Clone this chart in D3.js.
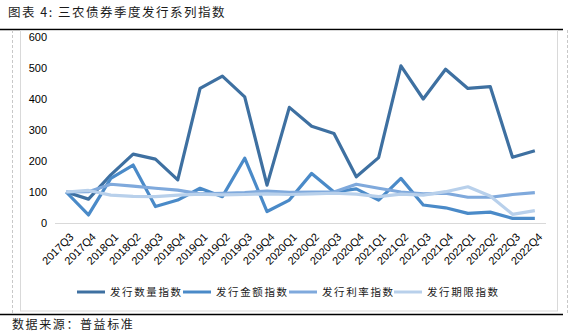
<!DOCTYPE html>
<html>
<head>
<meta charset="utf-8">
<script src="https://cdn.jsdelivr.net/npm/d3@7/dist/d3.min.js"></script>
<style>
  html, body { margin: 0; padding: 0; background: #fff; }
  svg { display: block; }
</style>
</head>
<body>
<svg id="chart" width="577" height="333"></svg>
<script>
// Quarterly issuance indices for agricultural ("三农") bonds, 2017Q3 = 100
const quarters = ["2017Q3","2017Q4","2018Q1","2018Q2","2018Q3","2018Q4","2019Q1","2019Q2","2019Q3","2019Q4","2020Q1","2020Q2","2020Q3","2020Q4","2021Q1","2021Q2","2021Q3","2021Q4","2022Q1","2022Q2","2022Q3","2022Q4"];
const countIndex  = [100, 77, 155, 222, 206, 139, 434, 474, 407, 122, 373, 312, 289, 149, 211, 507, 400, 496, 434, 440, 212, 233];
const amountIndex = [100, 26, 144, 187, 53, 74, 112, 85, 209, 37, 74, 160, 100, 110, 74, 144, 58, 49, 31, 35, 15, 15];
const rateIndex   = [100, 101, 125, 119, 112, 106, 94, 96, 98, 103, 99, 100, 100, 125, 112, 100, 94, 96, 83, 83, 92, 98];
const termIndex   = [100, 105, 90, 86, 85, 90, 93, 91, 92, 94, 92, 94, 96, 93, 85, 93, 90, 101, 117, 87, 28, 40];
const seriesNames = ["发行数量指数", "发行金额指数", "发行利率指数", "发行期限指数"];
const yTicks = [0, 100, 200, 300, 400, 500, 600];

const seriesValues = [countIndex, amountIndex, rateIndex, termIndex];
const colors = ["#3E70A1", "#4A8AC8", "#7FA9DC", "#B8D0EB"];

const svg = d3.select("#chart");
const cjk = "'Noto Sans CJK SC', 'Noto Sans', sans-serif";
const num = "'Liberation Sans', Arial, sans-serif";

// title and rules
svg.append("text").attr("x", 8).attr("y", 17)
  .attr("font-family", cjk).attr("font-size", 12.5).attr("letter-spacing", 1.5)
  .attr("fill", "#1a1a1a").text("图表 4: 三农债券季度发行系列指数");
svg.append("line").attr("x1", 0).attr("x2", 563).attr("y1", 29.5).attr("y2", 29.5)
  .attr("stroke", "#000").attr("stroke-width", 1.5);
svg.append("line").attr("x1", 0).attr("x2", 563).attr("y1", 314.5).attr("y2", 314.5)
  .attr("stroke", "#000").attr("stroke-width", 1.5);

// outer dashed frame edges
[12.5, 567.5].forEach(x => {
  svg.append("line").attr("x1", x).attr("x2", x).attr("y1", 30).attr("y2", 314)
    .attr("stroke", "#c8c8c8").attr("stroke-dasharray", "3,2");
});
// chart area border
svg.append("rect").attr("x", 20.5).attr("y", 30.5).attr("width", 537).attr("height", 280.5)
  .attr("fill", "none").attr("stroke", "#d9d9d9");

// scales
const x = d3.scalePoint().domain(quarters).range([55, 546]).padding(0.5);
const y = d3.scaleLinear().domain([0, 600]).range([223, 37]);

// y axis labels
const yAxis = d3.axisLeft(y).tickValues(yTicks).tickSize(0).tickPadding(0);
const gy = svg.append("g").attr("transform", "translate(47,0)").call(yAxis);
gy.select(".domain").remove();
gy.selectAll("text").attr("font-family", num).attr("font-size", 11).attr("fill", "#000");

// x axis baseline and rotated labels
const xAxis = d3.axisBottom(x).tickSize(0).tickPadding(0);
const gx = svg.append("g").attr("transform", `translate(0,${y(0)})`).call(xAxis);
gx.select(".domain").attr("stroke", "#d9d9d9").attr("d", "M55,0.5H546");
gx.selectAll("text")
  .attr("font-family", num).attr("font-size", 11).attr("fill", "#000")
  .attr("text-anchor", "end").attr("dy", "0.35em")
  .attr("transform", "translate(5,12) rotate(-45)");

// series lines
const line = d3.line().x((d, i) => x(quarters[i])).y(d => y(d));
seriesValues.forEach((vals, k) => {
  svg.append("path").datum(vals).attr("d", line)
    .attr("fill", "none").attr("stroke", colors[k]).attr("stroke-width", 3.2)
    .attr("stroke-linejoin", "round").attr("stroke-linecap", "butt");
});

// legend
const legendX = [77, 183, 289, 394];
const lg = svg.append("g");
seriesNames.forEach((name, k) => {
  lg.append("line").attr("x1", legendX[k]).attr("x2", legendX[k] + 28)
    .attr("y1", 292).attr("y2", 292).attr("stroke", colors[k]).attr("stroke-width", 3);
  lg.append("text").attr("x", legendX[k] + 33).attr("y", 296)
    .attr("font-family", cjk).attr("font-size", 10.5).attr("letter-spacing", 1.6)
    .attr("fill", "#1a1a1a").text(name);
});

// source note
svg.append("text").attr("x", 12).attr("y", 329)
  .attr("font-family", cjk).attr("font-size", 12).attr("letter-spacing", 1.6)
  .attr("fill", "#1a1a1a").text("数据来源：普益标准");
</script>
</body>
</html>
